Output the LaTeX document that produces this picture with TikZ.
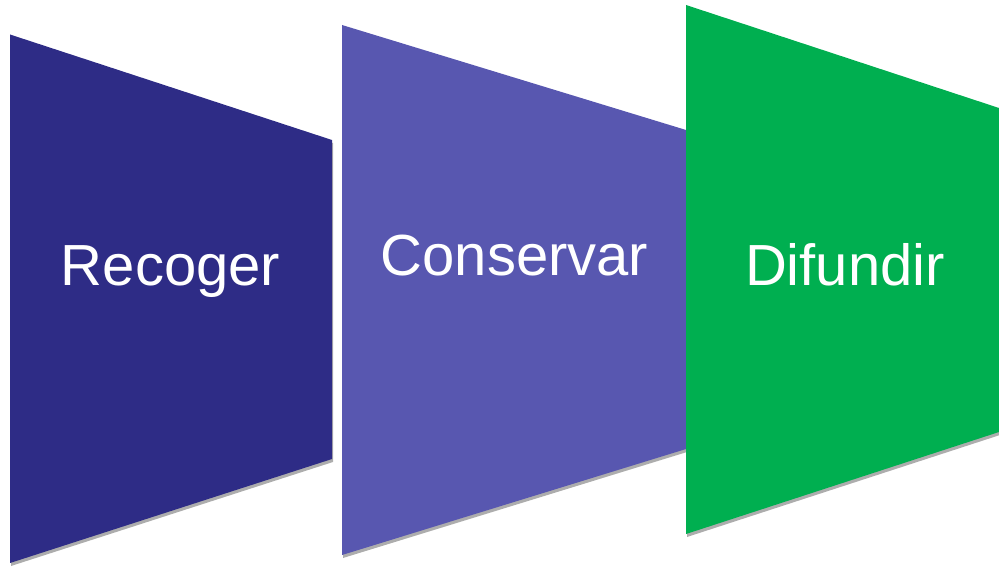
\documentclass[tikz,border=0pt]{standalone}
\usepackage{fontspec}
\setmainfont{Liberation Sans}
\usepackage{tikz}
\usetikzlibrary{shadows}
\usepackage{xcolor}
\definecolor{recoger}{RGB}{46, 44, 134}
\definecolor{conservar}{RGB}{88, 87, 176}
\definecolor{difundir}{RGB}{0, 175, 80}

\begin{document}
\begin{tikzpicture}[
    x=1pt, y=-1pt,
    stage/.style={drop shadow={shadow xshift=1pt, shadow yshift=-3pt, fill=black!32, opacity=1}},
    label/.style={anchor=base, text=white, font=\fontsize{58}{60}\selectfont, inner sep=0pt}
]
\useasboundingbox (0,0) rectangle (999,567);

\fill[stage, recoger] (10,34.5) -- (332,140) -- (332,459) -- (10,563) -- cycle;
\fill[stage, conservar] (342,25) -- (688,130.6) -- (688,448.4) -- (342,555) -- cycle;
\fill[stage, difundir] (686,5) -- (999,108) -- (999,432) -- (686,534) -- cycle;

\node[label] (s1) at (170.5,285) {Recoger};
\node[label] (s2) at (514.5,275) {Conservar};
\node[label] (s3) at (845,285) {Difundir};
\end{tikzpicture}
\end{document}
